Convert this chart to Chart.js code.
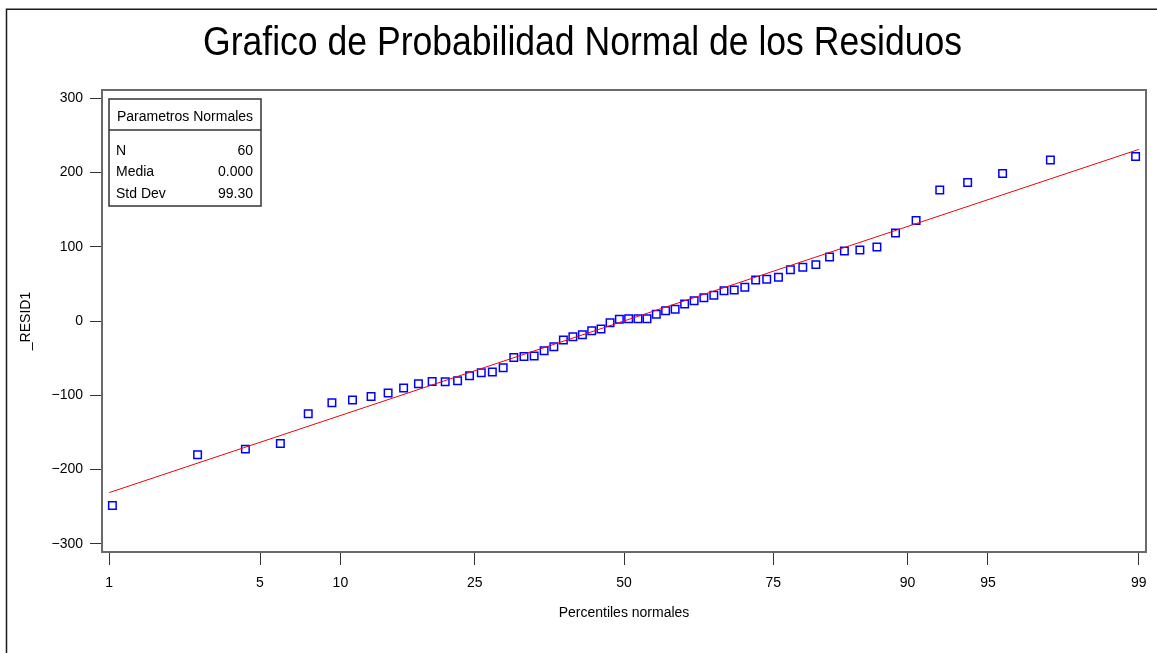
<!DOCTYPE html>
<html><head><meta charset="utf-8">
<script src="https://cdn.jsdelivr.net/npm/chart.js@4.4.0/dist/chart.umd.min.js"></script>
<style>html,body{margin:0;padding:0;background:#fff;overflow:hidden}canvas{display:block}</style>
</head><body>
<canvas id="c" width="1157" height="653"></canvas>
<script>
const titleText = 'Grafico de Probabilidad Normal de los Residuos';
const xAxisTitle = 'Percentiles normales';
const yAxisTitle = '_RESID1';
const xTickPercentiles = [1, 5, 10, 25, 50, 75, 90, 95, 99];
const xTickZ = [-2.3263, -1.6449, -1.2816, -0.6745, 0, 0.6745, 1.2816, 1.6449, 2.3263];
const yTicks = [-300, -200, -100, 0, 100, 200, 300];

// normal scores (z) of the 60 ranked residuals
const normalScoreZ = [-2.312, -1.927, -1.711, -1.553, -1.427, -1.320, -1.227, -1.143, -1.066, -0.996,
  -0.929, -0.867, -0.808, -0.752, -0.698, -0.645, -0.595, -0.546, -0.498, -0.452,
  -0.406, -0.361, -0.317, -0.274, -0.231, -0.188, -0.146, -0.104, -0.063, -0.021,
  0.021, 0.063, 0.104, 0.146, 0.188, 0.231, 0.274, 0.317, 0.361, 0.406,
  0.452, 0.498, 0.546, 0.595, 0.645, 0.698, 0.752, 0.808, 0.867, 0.929,
  0.996, 1.066, 1.143, 1.227, 1.320, 1.427, 1.553, 1.711, 1.927, 2.312];
const residuals = [-248.4, -180.2, -172.5, -164.9, -124.9, -110.1, -106.5, -101.5, -97.0, -90.3,
  -84.5, -81.3, -81.8, -80.5, -73.7, -69.7, -68.7, -62.9, -49.2, -47.8,
  -47.2, -40.0, -34.6, -25.6, -21.2, -18.4, -13.0, -10.8, -2.2, 2.2,
  3.1, 3.1, 3.1, 9.0, 13.9, 15.8, 22.9, 27.4, 31.4, 34.6,
  40.8, 41.8, 45.4, 55.3, 56.2, 58.9, 69.1, 72.4, 75.9, 86.3,
  94.3, 95.7, 99.7, 118.6, 135.2, 176.5, 186.4, 198.5, 216.6, 221.4];

// reference line (mean 0, std dev 99.30) between the 1st and 99th percentiles
const refLineZ = [-2.3263, 2.3263];
const refLineY = [-231.0, 231.0];

const statsHeader = 'Parametros Normales';
const statsLabels = ['N', 'Media', 'Std Dev'];
const statsValues = ['60', '0.000', '99.30'];

const FONT = '"Liberation Sans", Arial, Helvetica, sans-serif';

const decor = {
  id: 'decor',
  beforeDraw(chart) {
    const ctx = chart.ctx;
    ctx.save();
    ctx.fillStyle = '#fff';
    ctx.fillRect(0, 0, chart.width, chart.height);
    ctx.restore();
  },
  afterDraw(chart) {
    const ctx = chart.ctx, a = chart.chartArea;
    ctx.save();
    // outer border (top + left)
    ctx.strokeStyle = '#1a1a1a';
    ctx.lineWidth = 1.5;
    ctx.beginPath();
    ctx.moveTo(6.5, chart.height);
    ctx.lineTo(6.5, 9.25);
    ctx.lineTo(chart.width, 9.25);
    ctx.stroke();
    // plot frame
    ctx.strokeStyle = '#6a6a6a';
    ctx.lineWidth = 2;
    ctx.strokeRect(a.left, a.top, a.right - a.left, a.bottom - a.top);
    // title
    ctx.fillStyle = '#000';
    ctx.font = '41px ' + FONT;
    const w = ctx.measureText(titleText).width;
    ctx.translate(582.5, 55);
    ctx.scale(759 / w, 1);
    ctx.textAlign = 'center';
    ctx.textBaseline = 'alphabetic';
    ctx.fillText(titleText, 0, 0);
    ctx.restore();
    // stats box
    ctx.save();
    const bx = a.left + 7, by = a.top + 9, bw = 152, bh = 107;
    ctx.strokeStyle = '#333';
    ctx.lineWidth = 1.5;
    ctx.strokeRect(bx, by, bw, bh);
    ctx.beginPath();
    ctx.moveTo(bx, by + 31);
    ctx.lineTo(bx + bw, by + 31);
    ctx.stroke();
    ctx.fillStyle = '#000';
    ctx.font = '14px ' + FONT;
    ctx.textBaseline = 'middle';
    ctx.textAlign = 'center';
    ctx.fillText(statsHeader, bx + bw / 2, by + 18);
    const rowY = [52, 73, 95];
    statsLabels.forEach((lab, i) => {
      ctx.textAlign = 'left';
      ctx.fillText(lab, bx + 7, by + rowY[i]);
      ctx.textAlign = 'right';
      ctx.fillText(statsValues[i], bx + bw - 8, by + rowY[i]);
    });
    ctx.restore();
  }
};

const pointData = residuals.map((r, i) => ({ x: normalScoreZ[i], y: r }));
const lineData = refLineZ.map((z, i) => ({ x: z, y: refLineY[i] }));

new Chart(document.getElementById('c'), {
  type: 'scatter',
  data: {
    datasets: [
      {
        data: lineData,
        showLine: true,
        borderColor: '#ff0000',
        borderWidth: 1,
        pointRadius: 0,
        fill: false
      },
      {
        data: pointData,
        showLine: false,
        pointStyle: 'rect',
        pointRadius: 5.3,
        pointBorderWidth: 1.5,
        borderColor: '#0000ff',
        backgroundColor: 'rgba(0,0,0,0)',
        pointBackgroundColor: 'rgba(0,0,0,0)'
      }
    ]
  },
  options: {
    responsive: false,
    animation: false,
    devicePixelRatio: 1,
    layout: { padding: { left: 0, right: 11, top: 90, bottom: 0 } },
    plugins: { legend: { display: false }, tooltip: { enabled: false }, title: { display: false } },
    scales: {
      x: {
        type: 'linear',
        min: -2.359,
        max: 2.359,
        afterFit: s => { s.height = 101; },
        afterBuildTicks: s => { s.ticks = xTickZ.map(v => ({ value: v })); },
        grid: { drawOnChartArea: false, drawTicks: true, tickLength: 13, color: '#333', lineWidth: 1 },
        border: { display: false },
        ticks: {
          autoSkip: false, maxRotation: 0, padding: 10, color: '#000',
          font: { family: FONT, size: 14 },
          callback: (v, i) => String(xTickPercentiles[i])
        },
        title: { display: true, text: xAxisTitle, color: '#000', font: { family: FONT, size: 14 }, padding: { top: 0, bottom: 31 } }
      },
      y: {
        type: 'linear',
        min: -311,
        max: 311,
        afterFit: s => { s.width = 102; },
        afterBuildTicks: s => { s.ticks = yTicks.map(v => ({ value: v })); },
        grid: { drawOnChartArea: false, drawTicks: true, tickLength: 12, color: '#333', lineWidth: 1 },
        border: { display: false },
        ticks: {
          autoSkip: false, padding: 7, color: '#000',
          font: { family: FONT, size: 14 },
          callback: v => (v < 0 ? '\u2212' + Math.abs(v) : String(v))
        },
        title: { display: true, text: yAxisTitle, color: '#000', font: { family: FONT, size: 14 }, padding: { top: 17.6, bottom: 0 } }
      }
    }
  },
  plugins: [decor]
});
</script>
</body></html>
